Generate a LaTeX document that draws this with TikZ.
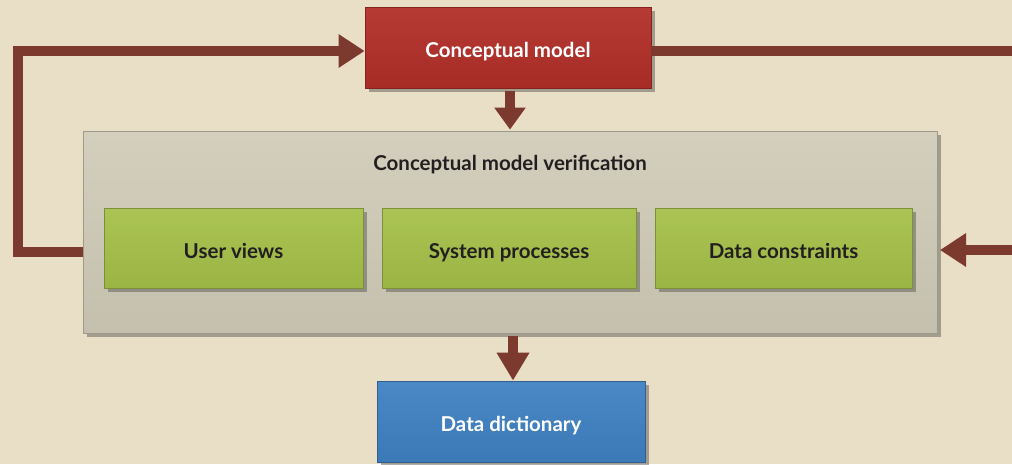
\documentclass[tikz,border=0pt]{standalone}
\usepackage{fontspec}
\setmainfont{Lato}
\usetikzlibrary{arrows.meta,shadows,calc}
\definecolor{bg}{HTML}{E9DEC6}
\definecolor{redbox}{HTML}{B22E28}
\definecolor{greybox}{HTML}{D1CCB9}
\definecolor{greenbox}{HTML}{A5C049}
\definecolor{bluebox}{HTML}{3F80C2}
\definecolor{arrowc}{HTML}{7C392D}
\definecolor{txt}{HTML}{231F20}
\tikzset{
  box/.style={rectangle, inner sep=0pt, draw=#1!75!black, line width=0.8pt,
    top color=#1!94!white, bottom color=#1!94!black,
    drop shadow={shadow xshift=4pt, shadow yshift=-4pt, opacity=0.45, fill=black!70}},
  lbl/.style={font=\bfseries\fontsize{20.5}{24}\selectfont, text height=20pt, text depth=0pt},
  conn/.style={draw=arrowc, line width=10pt},
  head/.style={-{Triangle[length=26pt,width=32pt]}},
}
\begin{document}
\begin{tikzpicture}[x=1pt,y=-1pt]
\clip (0,0) rectangle (1012,464);
\fill[bg] (0,0) rectangle (1012,464);
% boxes
\node[box=greybox, minimum width=854pt, minimum height=202pt] (ver) at (510,232) {};
\node[lbl, text=txt] (vertitle) at (510,160) {Conceptual model verification};
\node[box=redbox, minimum width=286pt, minimum height=81pt, lbl, text=white] (cm) at (508,47.5) {Conceptual model};
\node[box=greenbox, minimum width=259pt, minimum height=80pt, lbl, text=txt] (uv) at (233.5,248) {User views};
\node[box=greenbox, minimum width=254pt, minimum height=80pt, lbl, text=txt] (sp) at (509,248) {System processes};
\node[box=greenbox, minimum width=257pt, minimum height=80pt, lbl, text=txt] (dc) at (783.5,248) {Data constraints};
\node[box=bluebox, minimum width=268pt, minimum height=81pt, lbl, text=white] (dd) at (511,421.5) {Data dictionary};
% connectors
\coordinate (lstart) at (83,252);
\coordinate (rin) at (940,250);
\draw[conn, head] (lstart) -- (18,252) -- (18,51) -- (cm.west |- 0,51);
\draw[conn] (cm.east |- 0,51) -- (1030,51);
\draw[conn, head] (1030,250) -- (rin);
\draw[conn, -{Triangle[length=22pt,width=30pt]}] ($(cm.south)+(2,3)$) -- ($(ver.north)+(0,-1)$);
\draw[conn, -{Triangle[length=28pt,width=31pt]}] (513,336) -- (dd.north -| 513,0);
\end{tikzpicture}
\end{document}
